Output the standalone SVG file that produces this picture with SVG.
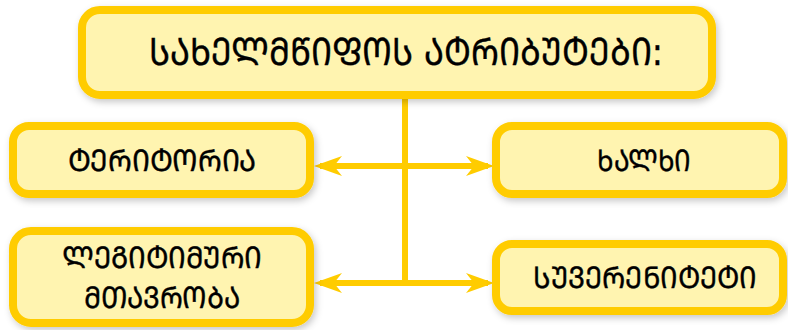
<svg xmlns="http://www.w3.org/2000/svg" width="788" height="330" viewBox="0 0 788 330">
<defs>
<filter id="sh" x="-10%" y="-20%" width="120%" height="140%">
<feDropShadow dx="2" dy="3" stdDeviation="3.5" flood-color="#000" flood-opacity="0.22"/>
</filter>
<style>
.box{fill:#FFF4B0;stroke:#FFCC00;stroke-width:8;filter:url(#sh)}
.t{font-family:"DejaVu Sans","Noto Sans",sans-serif;fill:#000;text-anchor:middle;dominant-baseline:central;stroke:#000;stroke-width:0.4}
.big{font-size:38px}
.sm{font-size:30px}
.ln{stroke:#FFCC00;stroke-width:6;fill:none}
.ah{fill:#FFCC00}
</style>
</defs>
<g id="connectors">
<line class="ln" x1="405" y1="99" x2="405" y2="286"/>
<line class="ln" x1="320" y1="166" x2="488" y2="166"/>
<line class="ln" x1="320" y1="283" x2="488" y2="283"/>
<polygon class="ah" points="314,166 342,156 334,166 342,176"/>
<polygon class="ah" points="494,166 466,156 474,166 466,176"/>
<polygon class="ah" points="314,283 342,273 334,283 342,293"/>
<polygon class="ah" points="494,283 466,273 474,283 466,293"/>
</g>
<g id="title">
<rect class="box" x="82" y="10" width="630" height="85" rx="18"/>
<text class="t big" x="406" y="52" textLength="514" lengthAdjust="spacingAndGlyphs">ᲡᲐᲮᲔᲚᲛᲬᲘᲤᲝᲡ ᲐᲢᲠᲘᲑᲣᲢᲔᲑᲘ:</text>
</g>
<g id="territory">
<rect class="box" x="13" y="126" width="297" height="68" rx="16"/>
<text class="t sm" x="162" y="160" textLength="189" lengthAdjust="spacingAndGlyphs">ᲢᲔᲠᲘᲢᲝᲠᲘᲐ</text>
</g>
<g id="people">
<rect class="box" x="496" y="126" width="287" height="68" rx="16"/>
<text class="t sm" x="644" y="160" textLength="94" lengthAdjust="spacingAndGlyphs">ᲮᲐᲚᲮᲘ</text>
</g>
<g id="government">
<rect class="box" x="13" y="231" width="297" height="92" rx="18"/>
<text class="t sm" x="162" y="257" textLength="200" lengthAdjust="spacingAndGlyphs">ᲚᲔᲒᲘᲢᲘᲛᲣᲠᲘ</text>
<text class="t sm" x="162" y="297" textLength="157" lengthAdjust="spacingAndGlyphs">ᲛᲗᲐᲕᲠᲝᲑᲐ</text>
</g>
<g id="sovereignty">
<rect class="box" x="496" y="244" width="287" height="67" rx="16"/>
<text class="t sm" x="645" y="277" textLength="224" lengthAdjust="spacingAndGlyphs">ᲡᲣᲕᲔᲠᲔᲜᲘᲢᲔᲢᲘ</text>
</g>
</svg>
